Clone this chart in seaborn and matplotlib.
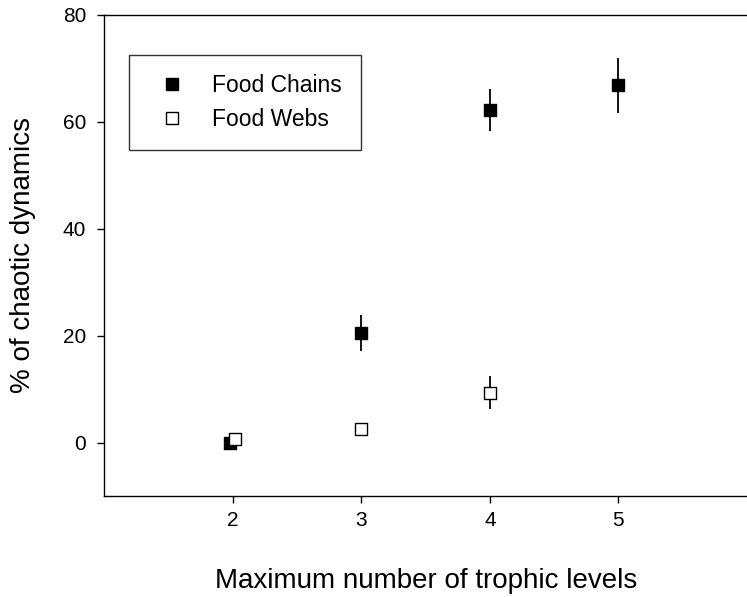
import matplotlib
matplotlib.use("Agg")
import matplotlib.pyplot as plt
import seaborn as sns
import pandas as pd
from matplotlib.lines import Line2D

# Data
chain_x = [1.98, 3, 4, 5]
chain_y = [0.0, 20.5, 62.2, 66.8]
chain_err = [0.0, 3.3, 4.0, 5.1]
web_x = [2.02, 3, 4]
web_y = [0.7, 2.5, 9.3]
web_err = [0.0, 0.0, 3.1]
series_names = ["Food Chains", "Food Webs"]
x_ticks = [2, 3, 4, 5]
y_ticks = [0, 20, 40, 60, 80]

sns.set_style("ticks")
plt.rcParams['font.family'] = ['Liberation Sans', 'DejaVu Sans']
plt.rcParams['text.color'] = 'black'
plt.rcParams['axes.labelcolor'] = 'black'
plt.rcParams['xtick.color'] = 'black'
plt.rcParams['ytick.color'] = 'black'

df = pd.DataFrame({
    "x": chain_x + web_x,
    "y": chain_y + web_y,
    "err": chain_err + web_err,
    "series": [series_names[0]] * len(chain_x) + [series_names[1]] * len(web_x),
})

fig = plt.figure(figsize=(7.47, 5.97), dpi=100)
ax = fig.add_axes([0.1396, 0.1692, 0.8604, 0.806])

# error bars
for name in series_names:
    sub = df[df["series"] == name]
    sub = sub[sub["err"] > 0]
    ax.errorbar(sub["x"], sub["y"], yerr=sub["err"], fmt="none",
                ecolor="black", elinewidth=1.3, capsize=0, zorder=2)

sns.scatterplot(data=df, x="x", y="y", hue="series", style="series",
                markers={"Food Chains": "s", "Food Webs": "s"},
                palette={"Food Chains": "black", "Food Webs": "white"},
                edgecolor="black", linewidth=1.0, s=75, legend=False,
                ax=ax, zorder=3)

ax.set_xlim(1, 6)
ax.set_ylim(-10, 80)
ax.set_xticks(x_ticks)
ax.set_yticks(y_ticks)
ax.tick_params(axis="both", direction="out", length=5, width=1.0,
               labelsize=15, colors="black", labelcolor="black")
ax.tick_params(axis="y", pad=8)
ax.tick_params(axis="x", pad=6)
for s in ["left", "bottom", "top"]:
    ax.spines[s].set_visible(True)
    ax.spines[s].set_linewidth(1.0)
    ax.spines[s].set_color("black")
ax.spines["right"].set_visible(False)

ax.set_xlabel("Maximum number of trophic levels", fontsize=20, labelpad=27,
              color="black")
ax.set_ylabel("% of chaotic dynamics", fontsize=20, labelpad=19,
              color="black")

handles = [
    Line2D([], [], marker="s", linestyle="none", markerfacecolor="black",
           markeredgecolor="black", markersize=8),
    Line2D([], [], marker="s", linestyle="none", markerfacecolor="white",
           markeredgecolor="black", markersize=8),
]
leg = ax.legend(handles, series_names, loc="upper left",
                bbox_to_anchor=(0.039, 0.917), borderaxespad=0,
                fontsize=16.5, frameon=True, fancybox=False,
                borderpad=0.85, labelspacing=0.45, handletextpad=0.75,
                handlelength=2.0)
leg.get_frame().set_edgecolor("black")
leg.get_frame().set_linewidth(1.0)
for t in leg.get_texts():
    t.set_color("black")

fig.savefig("out.png", dpi=100)
